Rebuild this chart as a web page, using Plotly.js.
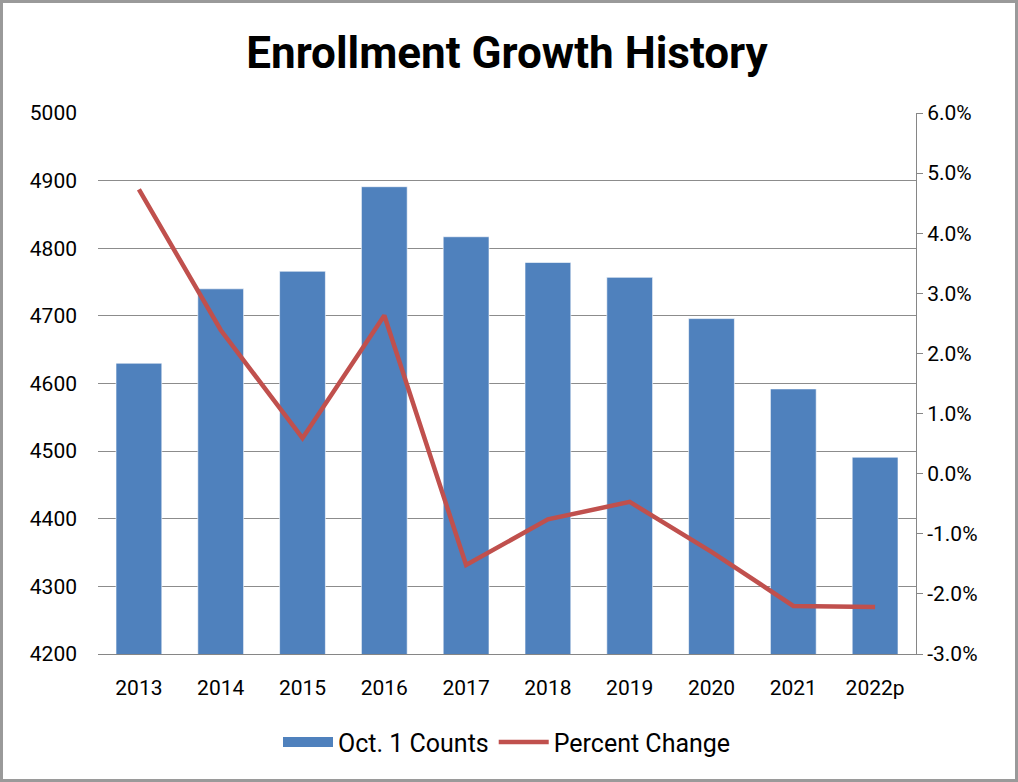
<!DOCTYPE html>
<html>
<head>
<meta charset="utf-8">
<script src="https://cdn.plot.ly/plotly-3.0.1.min.js"></script>
<style>
html,body{margin:0;padding:0;background:#fff;}
#chart{width:1018px;height:782px;}
</style>
</head>
<body>
<div id="chart"></div>
<script>
const years = ["2013","2014","2015","2016","2017","2018","2019","2020","2021","2022p"];
const counts = [4630, 4740, 4766, 4891, 4817, 4779, 4757, 4696, 4592, 4491];
const pctChange = [4.73, 2.39, 0.59, 2.63, -1.52, -0.76, -0.47, -1.30, -2.20, -2.22];
const leftTicks = [4200, 4300, 4400, 4500, 4600, 4700, 4800, 4900, 5000];
const rightTicks = [-3, -2, -1, 0, 1, 2, 3, 4, 5, 6];
const rightTickText = rightTicks.map(v => v.toFixed(1) + "%");

const W = 1018, H = 782;
const M = {l: 98, r: 102, t: 113, b: 128};
const pw = W - M.l - M.r, ph = H - M.t - M.b;
const FONT = "Roboto, sans-serif";
const BLUE = "#4F81BD", RED = "#C0504D";

const traces = [
  {
    type: "bar",
    x: years,
    y: counts,
    name: "Oct. 1 Counts",
    marker: {color: BLUE, line: {color: "rgba(255,255,255,0.6)", width: 1}},
    yaxis: "y",
    showlegend: false
  },
  {
    // legend proxy for the bar series (wide rectangular swatch)
    type: "scatter",
    mode: "lines",
    x: years,
    y: years.map(() => null),
    name: "Oct. 1 Counts",
    line: {color: BLUE, width: 16},
    yaxis: "y",
    hoverinfo: "skip"
  },
  {
    type: "scatter",
    mode: "lines",
    x: years,
    y: pctChange,
    name: "Percent Change",
    line: {color: RED, width: 4.5},
    yaxis: "y2"
  }
];

const layout = {
  width: W, height: H,
  margin: M,
  paper_bgcolor: "#fff",
  plot_bgcolor: "#fff",
  font: {family: FONT, size: 21, color: "#000"},
  title: {text: "<b>Enrollment Growth History</b>", x: 0.5, xref: "paper", y: 0.933, yref: "container", xanchor: "center", yanchor: "middle", font: {family: FONT, size: 44, color: "#000"}},
  bargap: 0.44,
  showlegend: true,
  legend: {orientation: "h", x: 0.5, xanchor: "center", y: -0.163, yanchor: "middle", font: {size: 25}, traceorder: "normal", itemwidth: 50},
  xaxis: {
    type: "category",
    showline: true, linecolor: "#868686", linewidth: 1,
    ticks: "", showgrid: false,
    tickfont: {size: 21},
    ticklabelstandoff: 15
  },
  yaxis: {
    range: [4200, 5000],
    tickvals: leftTicks,
    ticktext: leftTicks.map(String),
    showgrid: true, gridcolor: "#8c8c8c", gridwidth: 1,
    showline: false,
    ticks: "",
    zeroline: false,
    tickfont: {size: 21},
    ticklabelstandoff: 20
  },
  yaxis2: {
    overlaying: "y",
    side: "right",
    range: [-3, 6],
    tickvals: rightTicks,
    ticktext: rightTickText,
    showgrid: false,
    showline: true, linecolor: "#868686", linewidth: 1,
    ticks: "outside", ticklen: 6, tickcolor: "#868686",
    zeroline: false,
    tickfont: {size: 21}
  },
  shapes: [
    {type: "rect", xref: "paper", yref: "paper",
     x0: (-M.l + 1.5) / pw, x1: (pw + M.r - 1.5) / pw,
     y0: (-M.b + 1.5) / ph, y1: (ph + M.t - 1.5) / ph,
     line: {color: "#9a9a9a", width: 3}, fillcolor: "rgba(0,0,0,0)", layer: "above"}
  ]
};

Plotly.newPlot("chart", traces, layout, {displayModeBar: false, staticPlot: true});
</script>
</body>
</html>
